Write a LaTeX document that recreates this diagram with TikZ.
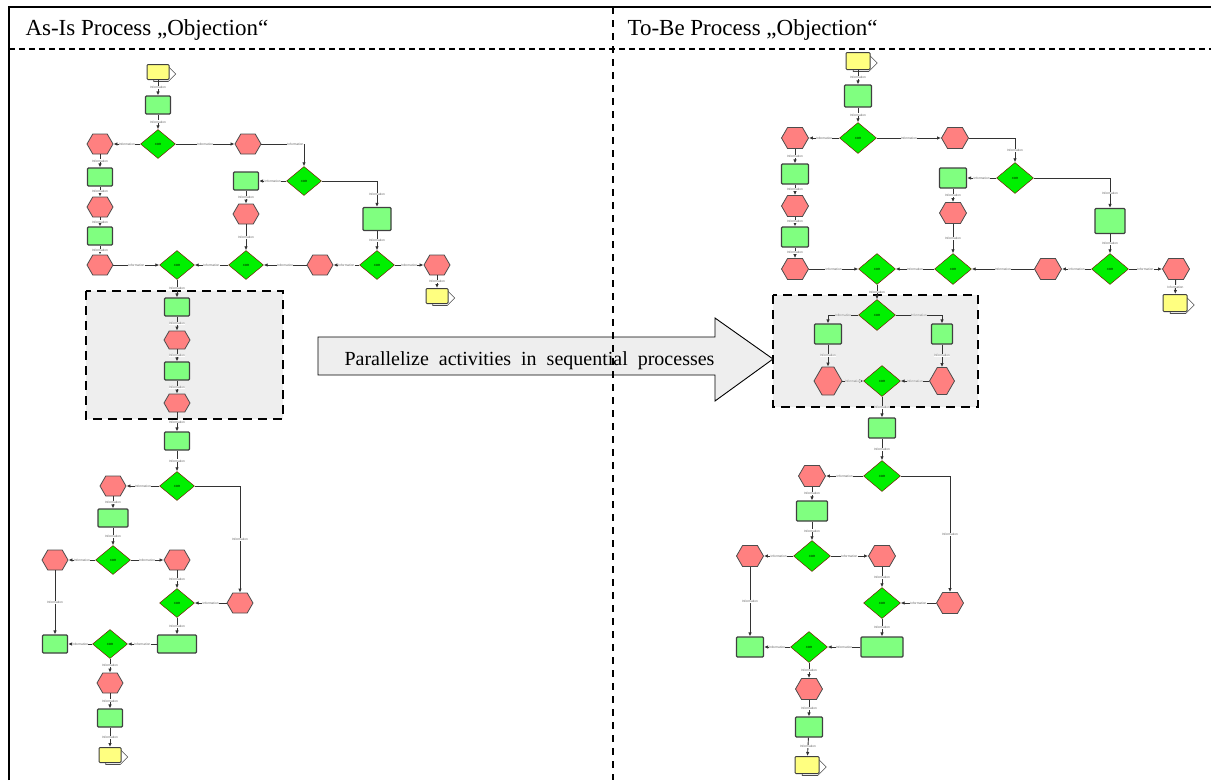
\documentclass[tikz,border=0pt]{standalone}
\usepackage{fontspec}
\setmainfont{Liberation Serif}
\newfontfamily\lbl{Liberation Sans}
\usetikzlibrary{shapes.geometric, shapes.symbols, arrows.meta, positioning}
\definecolor{fncol}{HTML}{80FF80}
\definecolor{evcol}{HTML}{FF8080}
\definecolor{xrcol}{HTML}{00F000}
\definecolor{ifcol}{HTML}{FFFF80}
\definecolor{grpcol}{HTML}{EEEEEE}
\newcommand{\ifnode}[2]{%
  \node[ifcback, xshift=3pt, yshift=-2pt] (#1b) at (#2) {};
  \node[ifc] (#1) at (#2) {};}

\begin{document}
\begin{tikzpicture}[x=1pt, y=-1pt,
    fn/.style={draw=black!75, line width=1.1pt, fill=fncol, rounded corners=1pt,
      minimum width=25pt, minimum height=18pt, inner sep=0pt},
    ev/.style={signal, signal to=east and west, signal pointer angle=120,
      draw=black!70, line width=0.8pt, fill=evcol,
      minimum width=26pt, minimum height=20pt, inner sep=0pt},
    xr/.style={diamond, draw=red!50!black, line width=0.4pt, fill=xrcol,
      minimum width=35pt, minimum height=29pt, inner sep=0pt,
      font=\lbl\fontsize{3}{3}\selectfont},
    ifc/.style={draw=black!75, line width=1pt, fill=ifcol, rounded corners=1pt,
      minimum width=22pt, minimum height=15pt, inner sep=0pt},
    ifcback/.style={signal, signal to=east, draw=black!70, line width=0.6pt,
      fill=white, minimum width=22pt, minimum height=15pt, inner sep=0pt},
    con/.style={draw=black!80, line width=0.9pt, -{Latex[length=4pt,width=3.5pt]}},
    inf/.style={fill=white, inner sep=0.3pt, text=black!60,
      font=\lbl\fontsize{3.2}{3.2}\selectfont},
    grp/.style={draw=black, line width=2.2pt, dash pattern=on 9pt off 6pt, fill=grpcol},
  ]
  \useasboundingbox (0,0) rectangle (1211,780);

  % frame and columns
  \draw[line width=1.6pt] (9,780) -- (9,7) -- (1211,7);
  \draw[line width=1.1pt, dash pattern=on 6pt off 4pt] (9,49) -- (1211,49);
  \node[anchor=base west, font=\fontsize{23}{26}\selectfont] (hasis) at (22,35) {As-Is Process „Objection“};
  \node[anchor=base west, font=\fontsize{23}{26}\selectfont] (htobe) at (624,35) {To-Be Process „Objection“};

  % parallelized parts
  \draw[grp] (86,291) rectangle (283,419);
  \draw[grp] (773,295) rectangle (978,407);
  \draw[line width=0.9pt, fill=grpcol] (318,337) -- (715,337) -- (715,318) -- (773,359)
    -- (715,401) -- (715,375) -- (318,375) -- cycle;
  \node[anchor=base west, font=\fontsize{20}{24}\selectfont] (par) at (341,365)
    {Parallelize\ \ activities\ \ in\ \ sequential\ \ processes};
  \draw[line width=1.4pt, dash pattern=on 7pt off 6pt] (613,7) -- (613,780);

  % as-is
  \ifnode{aStart}{158,72}
  \node[fn] (aF1) at (158,105) {};
  \node[xr] (aX1) at (158,144) {XOR};
  \node[ev] (aE1) at (100,144) {};
  \node[ev] (aE2) at (248,144) {};
  \node[xr] (aX2) at (304,181) {XOR};
  \node[fn] (aF2) at (246,181) {};
  \node[fn, minimum width=28pt, minimum height=23pt] (aF3) at (377,219) {};
  \node[ev] (aE3) at (246,214) {};
  \node[xr] (aX4) at (246,265) {XOR};
  \node[xr] (aX5) at (377,265) {XOR};
  \node[ev] (aE4) at (320,265) {};
  \node[xr] (aX3) at (177,265) {XOR};
  \node[ev] (aE5) at (437,265) {};
  \ifnode{aEnd1}{437,296}
  \node[fn] (aF4) at (100,177) {};
  \node[ev] (aE6) at (100,207) {};
  \node[fn] (aF5) at (100,236) {};
  \node[ev] (aE7) at (100,265) {};
  \node[fn] (aF6) at (177,307) {};
  \node[ev, minimum height=18pt] (aE8) at (177,340) {};
  \node[fn] (aF7) at (177,371) {};
  \node[ev, minimum height=18pt] (aE9) at (177,403) {};
  \node[fn] (aF8) at (177,441) {};
  \node[xr] (aX6) at (177,486) {XOR};
  \node[ev] (aE10) at (113,486) {};
  \node[ev] (aE11) at (240,603) {};
  \node[fn, minimum width=30pt] (aF9) at (113,518) {};
  \node[xr] (aX7) at (113,560) {XOR};
  \node[ev] (aE12) at (55,560) {};
  \node[ev] (aE13) at (177,560) {};
  \node[xr] (aX8) at (177,603) {XOR};
  \node[fn, minimum width=39pt] (aF10) at (177,644) {};
  \node[fn] (aF11) at (55,644) {};
  \node[xr] (aX9) at (110,644) {XOR};
  \node[ev] (aE14) at (110,683) {};
  \node[fn] (aF12) at (110,718) {};
  \ifnode{aEnd2}{110,755}

  \foreach \u/\v in {aStart/aF1, aF1/aX1, aX1/aE1, aX1/aE2, aX2/aF2, aF2/aE3, aE3/aX4,
      aF3/aX5, aX5/aE4, aE4/aX4, aX4/aX3, aX5/aE5, aE5/aEnd1, aE1/aF4, aF4/aE6,
      aE6/aF5, aF5/aE7, aE7/aX3, aX3/aF6, aF6/aE8, aE8/aF7, aF7/aE9, aE9/aF8,
      aF8/aX6, aX6/aE10, aE10/aF9, aF9/aX7, aX7/aE12, aX7/aE13, aE13/aX8, aE11/aX8,
      aX8/aF10, aF10/aX9, aX9/aF11, aE12/aF11, aX9/aE14, aE14/aF12, aF12/aEnd2}
    \draw[con] (\u) -- node[inf] {Information} (\v);
  \draw[con] (aE2) -| node[inf, pos=0.4] {Information} (aX2);
  \draw[con] (aX2) -| node[inf, pos=0.75] {Information} (aF3);
  \draw[con] (aX6) -| node[inf, pos=0.75] {Information} (aE11);

  % to-be
  \begin{scope}[fn/.append style={minimum width=27pt, minimum height=20pt},
      ev/.append style={minimum width=27pt, minimum height=21pt},
      xr/.append style={minimum width=37pt, minimum height=31pt},
      ifc/.append style={minimum width=24pt, minimum height=17pt},
      ifcback/.append style={minimum width=24pt, minimum height=17pt}]
    \ifnode{bStart}{858,61}
    \node[fn, minimum height=22pt] (bF1) at (858,96) {};
    \node[xr] (bX1) at (858,138) {XOR};
    \node[ev] (bE1) at (795,138) {};
    \node[ev] (bE2) at (955,138) {};
    \node[xr] (bX2) at (1015,178) {XOR};
    \node[fn] (bF2) at (953,178) {};
    \node[fn, minimum width=30pt, minimum height=25pt] (bF3) at (1110,221) {};
    \node[ev] (bE3) at (953,213) {};
    \node[xr] (bX4) at (953,269) {XOR};
    \node[xr] (bX5) at (1110,269) {XOR};
    \node[ev] (bE4) at (1048,269) {};
    \node[xr] (bX3) at (877,269) {XOR};
    \node[ev] (bE5) at (1176,269) {};
    \ifnode{bEnd1}{1175,303}
    \node[fn] (bF4) at (795,174) {};
    \node[ev] (bE6) at (795,206) {};
    \node[fn] (bF5) at (795,237) {};
    \node[ev] (bE7) at (795,269) {};
    \node[xr] (bXa) at (877,315) {XOR};
    \node[fn] (bF6) at (828,334) {};
    \node[fn, minimum width=21pt] (bF7) at (942,334) {};
    \node[ev, minimum width=28pt, minimum height=28pt] (bE8) at (828,381) {};
    \node[ev, minimum width=25pt, minimum height=27pt] (bE9) at (942,381) {};
    \node[xr] (bXb) at (882,381) {XOR};
    \node[fn] (bF8) at (882,428) {};
    \node[xr] (bX6) at (882,476) {XOR};
    \node[ev] (bE10) at (812,476) {};
    \node[ev] (bE11) at (950,603) {};
    \node[fn, minimum width=31pt] (bF9) at (812,511) {};
    \node[xr] (bX7) at (812,556) {XOR};
    \node[ev] (bE12) at (750,556) {};
    \node[ev] (bE13) at (882,556) {};
    \node[xr] (bX8) at (882,603) {XOR};
    \node[fn, minimum width=42pt] (bF10) at (882,647) {};
    \node[fn] (bF11) at (750,647) {};
    \node[xr] (bX9) at (809,647) {XOR};
    \node[ev] (bE14) at (809,689) {};
    \node[fn] (bF12) at (809,727) {};
    \ifnode{bEnd2}{807,765}
  \end{scope}

  \foreach \u/\v in {bStart/bF1, bF1/bX1, bX1/bE1, bX1/bE2, bX2/bF2, bF2/bE3, bE3/bX4,
      bF3/bX5, bX5/bE4, bE4/bX4, bX4/bX3, bX5/bE5, bE5/bEnd1, bE1/bF4, bF4/bE6,
      bE6/bF5, bF5/bE7, bE7/bX3, bX3/bXa, bF6/bE8, bF7/bE9, bE8/bXb, bE9/bXb,
      bXb/bF8, bF8/bX6, bX6/bE10, bE10/bF9, bF9/bX7, bX7/bE12, bX7/bE13, bE13/bX8,
      bE11/bX8, bX8/bF10, bF10/bX9, bX9/bF11, bE12/bF11, bX9/bE14, bE14/bF12, bF12/bEnd2}
    \draw[con] (\u) -- node[inf] {Information} (\v);
  \draw[con] (bE2) -| node[inf, pos=0.75] {Information} (bX2);
  \draw[con] (bX2) -| node[inf, pos=0.75] {Information} (bF3);
  \draw[con] (bXa) -| node[inf, pos=0.25] {Information} (bF6);
  \draw[con] (bXa) -| node[inf, pos=0.25] {Information} (bF7);
  \draw[con] (bX6) -| node[inf, pos=0.75] {Information} (bE11);
\end{tikzpicture}
\end{document}
